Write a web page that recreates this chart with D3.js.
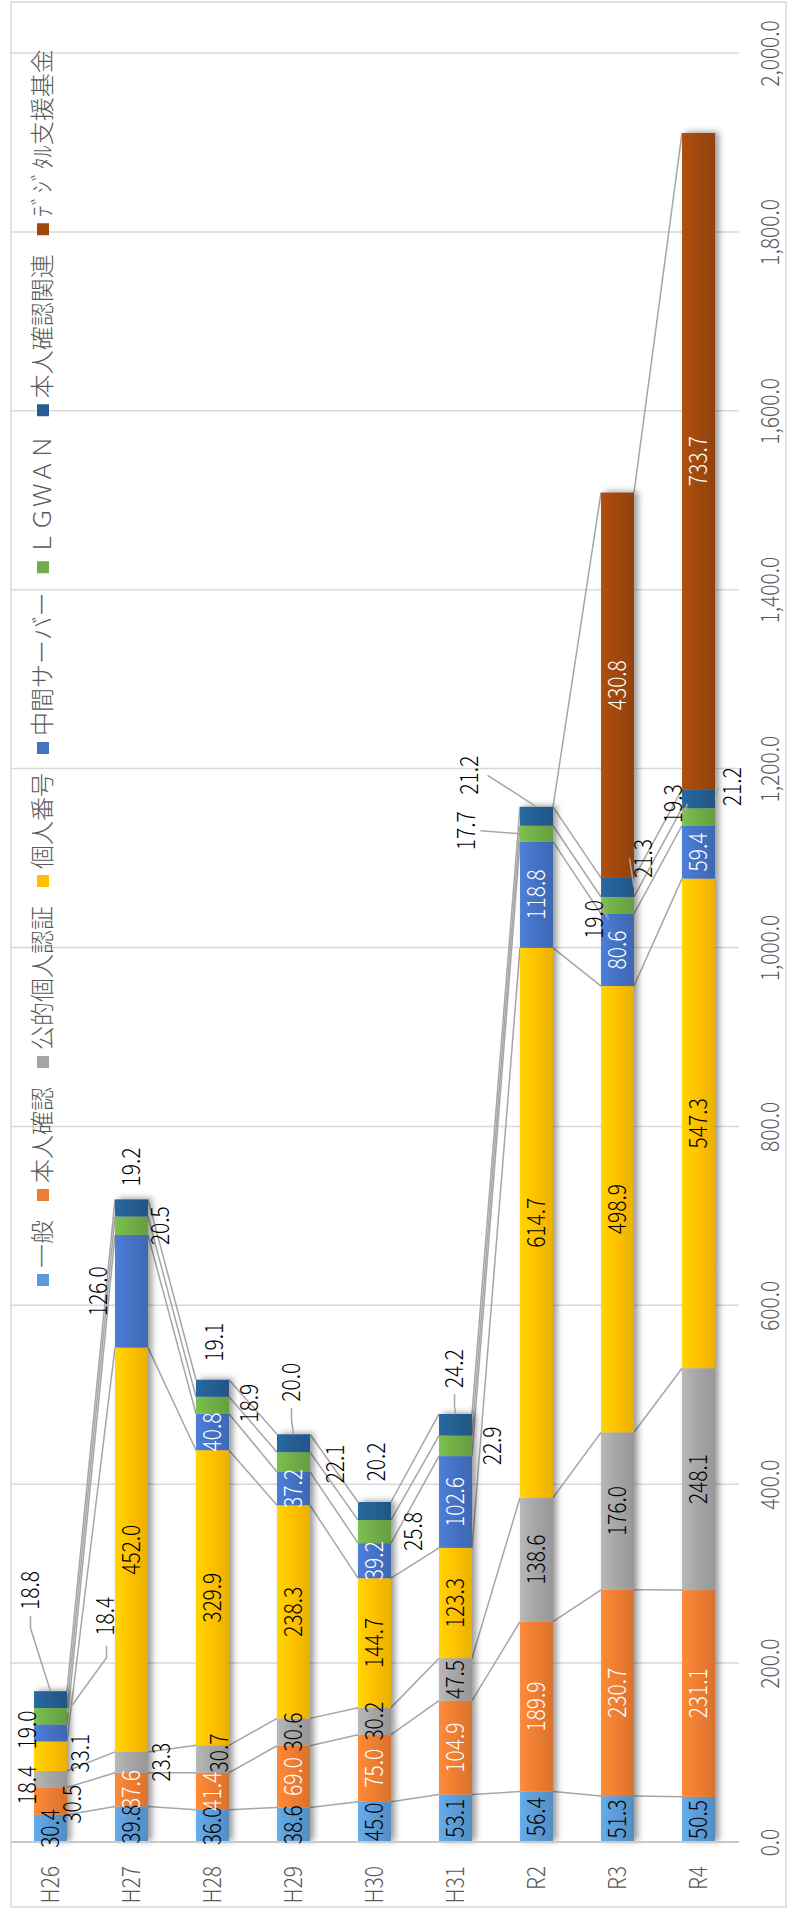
<!DOCTYPE html>
<html>
<head>
<meta charset="utf-8">
<script src="https://cdn.jsdelivr.net/npm/d3@7"></script>
<style>
  body { margin: 0; background: #fff; }
  svg { display: block; }
  text { font-family: "Noto Sans CJK JP", "Noto Sans", sans-serif; font-weight: 300; }
</style>
</head>
<body>
<div id="chart"></div>
<script>
// data
const CATEGORIES = ["H26", "H27", "H28", "H29", "H30", "H31", "R2", "R3", "R4"];
const SERIES = ["一般", "本人確認", "公的個人認証", "個人番号", "中間サーバー", "ＬＧＷＡＮ", "本人確認関連", "ﾃﾞｼﾞﾀﾙ支援基金"];
const IPPAN   = [30.4, 39.8, 36.0, 38.6, 45.0, 53.1, 56.4, 51.3, 50.5];
const HONNIN  = [30.5, 37.6, 41.4, 69.0, 75.0, 104.9, 189.9, 230.7, 231.1];
const KOUTEKI = [18.4, 23.3, 30.7, 30.6, 30.2, 47.5, 138.6, 176.0, 248.1];
const BANGOU  = [33.1, 452.0, 329.9, 238.3, 144.7, 123.3, 614.7, 498.9, 547.3];
const CHUKAN  = [19.0, 126.0, 40.8, 37.2, 39.2, 102.6, 118.8, 80.6, 59.4];
const LGWAN   = [18.4, 20.5, 18.9, 22.1, 25.8, 22.9, 17.7, 19.0, 19.3];
const KANREN  = [18.8, 19.2, 19.1, 20.0, 20.2, 24.2, 21.2, 21.3, 21.2];
const DIGITAL = [null, null, null, null, null, null, null, 430.8, 733.7];
const VALUE_TICKS = [0, 200, 400, 600, 800, 1000, 1200, 1400, 1600, 1800, 2000];

// styles
const COLORS = ["#5b9bd5", "#ed7d31", "#a5a5a5", "#ffc000", "#4472c4", "#70ad47", "#255e91", "#9e480e"];
const INSIDE_TEXT = ["#000", "#fff", "#000", "#000", "#fff", "#000", "#000", "#fff"];

// labels that were dragged off their segment: offset from segment centre (px), leader style
const MOVED = {
  "H26|1": {dx: 22, dy: 3},
  "H26|2": {dx: -23, dy: 6},
  "H26|3": {dx: 30, dy: -3},
  "H26|4": {dx: -23, dy: -3},
  "H26|5": {dx: 55, dy: -100, lead: "right"},
  "H26|6": {dx: -20, dy: -109, lead: "top"},
  "H27|2": {dx: 30, dy: 0},
  "H27|4": {dx: -33, dy: 0},
  "H27|5": {dx: 29, dy: 0},
  "H27|6": {dx: 0, dy: -41},
  "H28|2": {dx: 7, dy: -6, inside: true},
  "H28|5": {dx: 37, dy: -2},
  "H28|6": {dx: 2, dy: -46},
  "H29|5": {dx: 42, dy: 2},
  "H29|6": {dx: -2, dy: -61, lead: "top"},
  "H30|5": {dx: 39, dy: 0},
  "H30|6": {dx: 2, dy: -49},
  "H31|5": {dx: 37, dy: 0},
  "H31|6": {dx: -1, dy: -56, lead: "top"},
  "R2|5": {dx: -70, dy: -3, lead: "side"},
  "R2|6": {dx: -67, dy: -41, lead: "topside"},
  "R3|5": {dx: -23, dy: 14, lead: "side"},
  "R3|6": {dx: 26, dy: -29, lead: "side"},
  "R4|5": {dx: -25, dy: -13, lead: "side"},
  "R4|6": {dx: 34, dy: -12, lead: "side"}
};

const WIDTH = 787, HEIGHT = 1910;
const PLOT = {left: 10, right: 739, top: 53, bottom: 1842};
const NUM_SIZE = 25, NUM_SQUEEZE = 0.84;

const svg = d3.select("#chart").append("svg")
  .attr("width", WIDTH).attr("height", HEIGHT);

const defs = svg.append("defs");
COLORS.forEach((c, i) => {
  const g = defs.append("linearGradient").attr("id", "grad" + i)
    .attr("x1", 0).attr("x2", 1).attr("y1", 0).attr("y2", 0);
  g.append("stop").attr("offset", "0").attr("stop-color", d3.color(c).brighter(0.3));
  g.append("stop").attr("offset", "0.5").attr("stop-color", c);
  g.append("stop").attr("offset", "1").attr("stop-color", d3.color(c).darker(0.25));
});
defs.append("filter").attr("id", "shadow")
  .attr("x", "-40%").attr("y", "-10%").attr("width", "190%").attr("height", "120%")
  .append("feDropShadow").attr("dx", 4).attr("dy", -1).attr("stdDeviation", 3)
  .attr("flood-color", "#000").attr("flood-opacity", 0.4);

// chart border
svg.append("rect").attr("x", 11).attr("y", 2).attr("width", 775).attr("height", 1905)
  .attr("fill", "none").attr("stroke", "#d9d9d9").attr("stroke-width", 1.5);

// table for the stack
const COLUMNS = [IPPAN, HONNIN, KOUTEKI, BANGOU, CHUKAN, LGWAN, KANREN, DIGITAL];
const TABLE = CATEGORIES.map((c, i) => {
  const row = {cat: c};
  SERIES.forEach((s, k) => { row[s] = COLUMNS[k][i] || 0; });
  return row;
});
const STACK = d3.stack().keys(SERIES)(TABLE);

const X = d3.scaleBand().domain(CATEGORIES).range([PLOT.left, PLOT.right])
  .paddingInner(0.593).paddingOuter(0.2963);
const Y = d3.scaleLinear().domain([0, 2000]).range([PLOT.bottom, PLOT.top]);
const BW = X.bandwidth();

// gridlines
svg.append("g").selectAll("line").data(VALUE_TICKS.slice(1)).enter().append("line")
  .attr("x1", 11).attr("x2", PLOT.right)
  .attr("y1", (d) => Y(d)).attr("y2", (d) => Y(d))
  .attr("stroke", "#d9d9d9").attr("stroke-width", 1.5);

// value axis labels (right side, rotated)
const yAxis = svg.append("g").attr("transform", "translate(770,0)")
  .call(d3.axisRight(Y).tickValues(VALUE_TICKS).tickFormat(d3.format(",.1f")).tickSize(0).tickPadding(0));
yAxis.select(".domain").remove();
yAxis.selectAll("text")
  .attr("x", 0).attr("dy", "0.35em").attr("transform", "rotate(-90) scale(" + NUM_SQUEEZE + ",1)")
  .attr("text-anchor", "middle").attr("fill", "#595959")
  .style("font-size", NUM_SIZE + "px").style("font-family", "\"Noto Sans CJK JP\", sans-serif");

// series lines between neighbouring bars
const lineG = svg.append("g");
STACK.forEach((layer, k) => {
  for (let i = 0; i < CATEGORIES.length - 1; i++) {
    if (COLUMNS[k][i + 1] == null) continue;
    const a = layer[i], b = layer[i + 1];
    lineG.append("line")
      .attr("x1", X(CATEGORIES[i]) + BW).attr("y1", Y(a[1]))
      .attr("x2", X(CATEGORIES[i + 1])).attr("y2", Y(b[1]))
      .attr("stroke", "#a6a6a6").attr("stroke-width", 1.5);
  }
});

// bars
const barG = svg.append("g").selectAll("g").data(CATEGORIES).enter().append("g")
  .attr("filter", "url(#shadow)");
barG.each(function (cat, i) {
  const g = d3.select(this);
  STACK.forEach((layer, k) => {
    if (COLUMNS[k][i] == null) return;
    g.append("rect")
      .attr("x", X(cat)).attr("width", BW)
      .attr("y", Y(layer[i][1])).attr("height", Y(layer[i][0]) - Y(layer[i][1]))
      .attr("fill", "url(#grad" + k + ")");
  });
});

// category labels
svg.append("g").selectAll("text").data(CATEGORIES).enter().append("text")
  .attr("transform", (d) => "translate(" + (X(d) + BW / 2) + ",1866) rotate(-90) scale(" + NUM_SQUEEZE + ",1)")
  .attr("dy", "0.35em").attr("text-anchor", "end")
  .attr("fill", "#595959").style("font-size", NUM_SIZE + "px")
  .text((d) => d);

// axis base line
svg.append("line").attr("x1", 11).attr("x2", PLOT.right)
  .attr("y1", PLOT.bottom).attr("y2", PLOT.bottom)
  .attr("stroke", "#c9c9c9").attr("stroke-width", 2);

// data labels
const leadG = svg.append("g");
const labG = svg.append("g");
STACK.forEach((layer, k) => {
  CATEGORIES.forEach((cat, i) => {
    const v = COLUMNS[k][i];
    if (v == null) return;
    const cx = X(cat) + BW / 2;
    const cy = (Y(layer[i][0]) + Y(layer[i][1])) / 2;
    const mv = MOVED[cat + "|" + k];
    const lx = cx + (mv ? mv.dx : 0), ly = cy + (mv ? mv.dy : 0);
    const t = labG.append("text")
      .attr("transform", "translate(" + lx + "," + ly + ") rotate(-90) scale(" + NUM_SQUEEZE + ",1)")
      .attr("dy", "0.35em").attr("text-anchor", "middle")
      .attr("fill", (mv && !mv.inside) ? "#000" : INSIDE_TEXT[k])
      .style("font-size", NUM_SIZE + "px")
      .text(d3.format(".1f")(v));
    if (!mv || !mv.lead) return;
    const half = t.node().getComputedTextLength() * NUM_SQUEEZE / 2;
    const top = Y(layer[i][1]);
    let pts;
    if (mv.lead === "top") {
      pts = [[lx, ly + half + 6], [lx, ly + half + 18], [cx, top]];
    } else if (mv.lead === "right") {
      pts = [[lx + 1, ly + half + 10], [lx + 1, ly + half + 22], [X(cat) + BW, cy - 4]];
    } else if (mv.lead === "topside") {
      pts = [[lx + 18, ly], [cx, top]];
    } else {
      const edge = mv.dx < 0 ? X(cat) : X(cat) + BW;
      pts = [[lx + (mv.dx < 0 ? 14 : -14), ly], [edge, cy]];
    }
    leadG.append("path").attr("d", d3.line()(pts))
      .attr("fill", "none").attr("stroke", "#a6a6a6").attr("stroke-width", 1.5);
  });
});

// legend, running up the left side
const legG = svg.append("g");
let ly = 1286;
SERIES.forEach((s, k) => {
  legG.append("rect").attr("x", 37).attr("y", ly - 12).attr("width", 12).attr("height", 12)
    .attr("fill", COLORS[k]);
  const t = legG.append("text")
    .attr("transform", "translate(43," + (ly - 18) + ") rotate(-90)")
    .attr("dy", "0.35em").attr("text-anchor", "start")
    .attr("fill", "#595959").style("font-size", "24px")
    .text(s);
  ly = ly - 18 - t.node().getComputedTextLength() - 19;
});
</script>
</body>
</html>
